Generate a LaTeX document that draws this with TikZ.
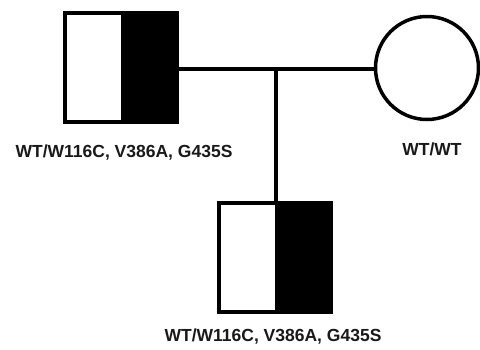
\documentclass[tikz,border=0pt]{standalone}
\usepackage{fontspec}
\setmainfont{Liberation Sans}
\begin{document}
\begin{tikzpicture}[x=1pt,y=-1pt,
  male/.style={draw=black,line width=4pt,minimum width=112pt,minimum height=109pt,inner sep=0pt,
    path picture={\fill[black] (path picture bounding box.north) rectangle (path picture bounding box.south east);}},
  female/.style={draw=black,line width=3.5pt,circle,minimum size=103pt,inner sep=0pt},
  lbl/.style={font=\fontsize{17.5}{20}\selectfont\bfseries,anchor=base,inner sep=0pt,text=black!90},
  conn/.style={line width=3.5pt}]
\useasboundingbox (0,0) rectangle (480,349);
\node[male] (father) at (121,67.5) {};
\node[female] (mother) at (427,68) {};
\node[male] (child) at (275,257) {};
\coordinate (mid) at (276,69);
\draw[conn] (father.east |- mid) -- (mother.west |- mid);
\draw[conn] (mid) -- (mid |- child.north);
\node[lbl] (flabel) at (124,157) {WT/W116C, V386A, G435S};
\node[lbl] (mlabel) at (432,155) {WT/WT};
\node[lbl] (clabel) at (273,341) {WT/W116C, V386A, G435S};
\end{tikzpicture}
\end{document}
